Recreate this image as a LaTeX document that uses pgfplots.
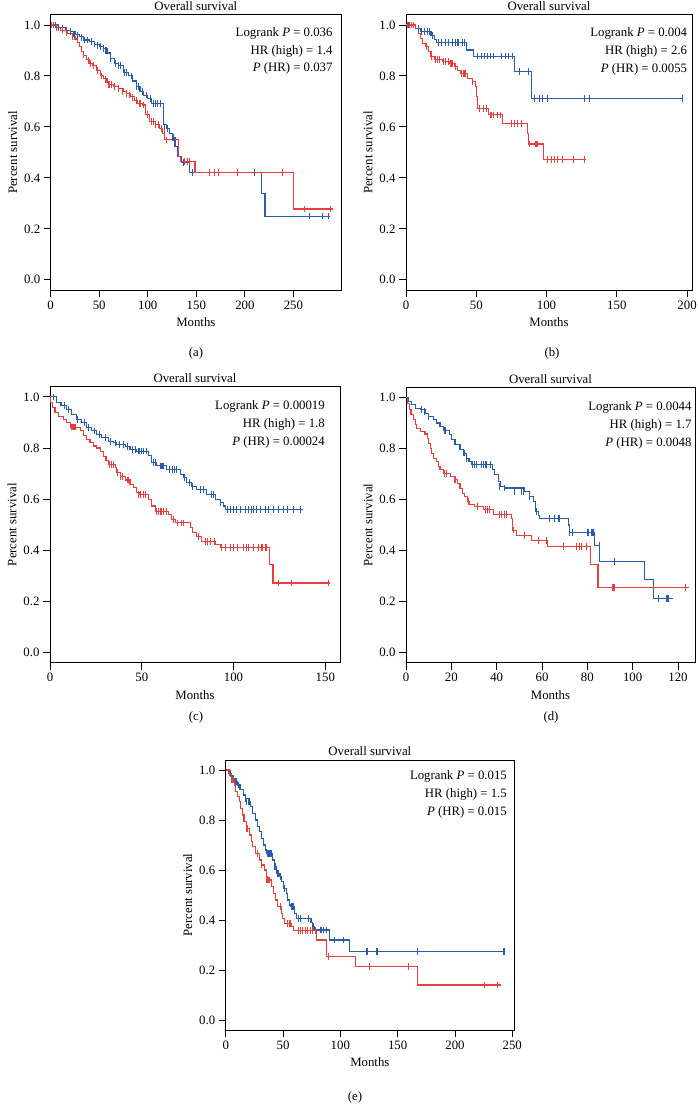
\documentclass[border=0pt]{standalone}
\usepackage{fontspec}
\setmainfont{Liberation Serif}
\usepackage{pgfplots}
\pgfplotsset{compat=1.18}
\definecolor{kmblue}{RGB}{43,92,170}
\definecolor{kmred}{RGB}{232,62,62}
\newcommand\fsz{\fontsize{12.8}{15}\selectfont}
\newcommand\annot[5]{%
  \node[anchor=base east,font=\fsz,inner sep=0pt,xshift=-#1pt,yshift=-#2pt] at (rel axis cs:1,1) {Logrank \textit{P} = #3};
  \node[anchor=base east,font=\fsz,inner sep=0pt,xshift=-#1pt,yshift=-#2pt-17.8pt] at (rel axis cs:1,1) {HR (high) = #4};
  \node[anchor=base east,font=\fsz,inner sep=0pt,xshift=-#1pt,yshift=-#2pt-35.6pt] at (rel axis cs:1,1) {\textit{P} (HR) = #5};
}
\pgfplotsset{
  km/.style={
    scale only axis, anchor=south west,
    xmin=0, ymin=-0.04, ymax=1.04,
    axis line style={line width=0.9pt},
    tick align=outside, major tick length=7pt,
    tick style={black, line width=0.9pt},
    xtick pos=left, ytick pos=left,
    ytick={0,0.2,0.4,0.6,0.8,1.0},
    yticklabel style={/pgf/number format/.cd, fixed, fixed zerofill, precision=1},
    /pgf/number format/assume math mode=true,
    title={Overall survival}, xlabel={Months}, ylabel={Percent survival},
    tick label style={font=\fsz},
    label style={font=\fsz},
    title style={font=\fsz, yshift=-5.5pt},
    xlabel style={yshift=-2pt},
  },
  bline/.style={kmblue, line width=1.1pt, const plot, mark=none},
  rline/.style={kmred, line width=1.1pt, const plot, mark=none},
  bcens/.style={kmblue, only marks, mark=|, mark size=3.4pt, mark options={line width=1.1pt}},
  rcens/.style={kmred, only marks, mark=|, mark size=3.4pt, mark options={line width=1.1pt}},
}
\begin{document}
\begin{tikzpicture}
\path[use as bounding box] (0pt,0pt) rectangle (697pt,1112pt);

% ---------------- (a)
\begin{axis}[km, at={(50.7pt,822pt)}, width=290.3pt, height=275.2pt, xmax=299,
  xtick={0,50,100,150,200,250}]
\addplot[bline] coordinates {(0,1) (8,0.99) (15,0.98) (20,0.974) (26,0.962) (30,0.955) (34,0.941) (40,0.935) (45,0.925) (50,0.915) (54,0.909) (58,0.89) (62,0.87) (66,0.85) (70,0.84) (75,0.815) (80,0.80) (84,0.78) (88,0.76) (92,0.74) (96,0.725) (100,0.71) (104,0.693) (116,0.608) (119,0.595) (122,0.575) (125,0.56) (128,0.523) (131,0.484) (135,0.46) (143,0.42) (217,0.337) (220.7,0.25) (288,0.25)};
\addplot[bcens] coordinates {(3,1) (5,1) (8,0.99) (12,0.985) (16,0.98) (20,0.974) (24,0.965) (28,0.96) (32,0.95) (35,0.941) (38,0.941) (42,0.935) (45,0.925) (48,0.92) (51,0.915) (54,0.909) (57,0.9) (62,0.87) (67,0.85) (70,0.84) (72,0.84) (76,0.815) (78,0.815) (83,0.80) (88,0.76) (90,0.76) (95,0.74) (99,0.725) (103,0.71) (106,0.693) (108,0.693) (110,0.693) (113,0.693) (117,0.595) (120,0.595) (126,0.56) (137,0.46) (146,0.42) (172.7,0.42) (210,0.42) (267,0.25) (280,0.25) (286,0.25)};
\addplot[rline] coordinates {(0,1) (5,0.99) (10,0.98) (17,0.967) (22,0.955) (25,0.945) (28,0.93) (30,0.915) (32,0.895) (34,0.882) (37,0.865) (40,0.85) (43,0.84) (47,0.82) (51,0.80) (54,0.79) (58,0.775) (61,0.765) (65,0.76) (70,0.75) (75,0.74) (78,0.732) (82,0.72) (86,0.705) (89,0.693) (95,0.686) (98,0.65) (102,0.62) (108,0.61) (112,0.595) (115,0.575) (117.6,0.549) (132,0.484) (134,0.464) (148.6,0.42) (250,0.278) (291,0.278)};
\addplot[rcens] coordinates {(1,1) (3,1) (6,0.99) (12,0.98) (16,0.97) (22,0.955) (34,0.882) (39,0.86) (41,0.85) (44,0.84) (48,0.82) (52,0.8) (56,0.785) (60,0.765) (63,0.765) (66,0.758) (70,0.75) (74,0.74) (78,0.732) (81,0.725) (84,0.715) (88,0.705) (92,0.693) (96,0.686) (100,0.65) (104,0.62) (106,0.62) (108,0.61) (111,0.61) (114,0.595) (117,0.575) (119,0.549) (138,0.464) (141,0.464) (143,0.464) (164,0.42) (169,0.42) (172.7,0.42) (192,0.42) (239,0.42) (261,0.278) (288,0.278)};
\annot{8.3}{21.5}{0.036}{1.4}{0.037}
\end{axis}

% ---------------- (b)
\begin{axis}[km, at={(406pt,822pt)}, width=286pt, height=275.2pt, xmax=203.5,
  xtick={0,50,100,150,200}]
\addplot[bline] coordinates {(0,1) (7,0.987) (10,0.974) (17.8,0.96) (20,0.944) (22,0.93) (43,0.902) (48,0.878) (77.2,0.817) (89,0.712) (197,0.712)};
\addplot[bcens] coordinates {(2,1) (4,1) (9,0.987) (11,0.974) (13,0.974) (15,0.974) (17,0.974) (19,0.96) (23,0.93) (25,0.93) (28,0.93) (30,0.93) (33,0.93) (35,0.93) (37,0.93) (40,0.93) (41.5,0.93) (51,0.878) (54,0.878) (56,0.878) (58,0.878) (60,0.878) (62,0.878) (68,0.878) (71,0.878) (73,0.878) (76,0.878) (81,0.817) (87,0.817) (91.4,0.712) (95,0.712) (97.4,0.712) (101,0.712) (127,0.712) (130.6,0.712) (197,0.712)};
\addplot[rline] coordinates {(0,1) (7,0.987) (8.8,0.967) (10,0.948) (11.9,0.928) (14,0.915) (16,0.895) (17.8,0.876) (20,0.863) (26,0.856) (31,0.85) (34.4,0.837) (36.8,0.82) (39,0.81) (44,0.79) (47.5,0.778) (49.4,0.758) (50.4,0.72) (51,0.673) (59,0.647) (68.4,0.614) (86.2,0.575) (87.2,0.533) (98.1,0.473) (127.8,0.473)};
\addplot[rcens] coordinates {(1,1) (2.5,1) (4,1) (5.5,1) (14.5,0.915) (18,0.876) (21,0.863) (22.5,0.863) (24,0.863) (26.5,0.856) (28,0.856) (30,0.856) (32,0.85) (33,0.85) (35,0.837) (39.5,0.81) (41,0.81) (42,0.81) (47,0.778) (52.3,0.673) (55,0.673) (57,0.673) (60.5,0.647) (62.5,0.647) (65,0.647) (67,0.647) (75,0.614) (77,0.614) (79.5,0.614) (82,0.614) (88,0.533) (92.5,0.533) (93.5,0.533) (101,0.473) (103.3,0.473) (105.7,0.473) (108,0.473) (111.6,0.473) (119.2,0.473) (127,0.473)};
\annot{4.7}{22}{0.004}{2.6}{0.0055}
\end{axis}

% ---------------- (c)
\begin{axis}[km, at={(50pt,449.3pt)}, width=290pt, height=276pt, xmax=158,
  xtick={0,50,100,150}]
\addplot[bline] coordinates {(0,1) (3.6,0.978) (6,0.965) (9,0.952) (11.8,0.932) (14.5,0.912) (17.3,0.90) (20,0.88) (22.7,0.867) (25.5,0.854) (28.2,0.84) (31.8,0.827) (34.5,0.82) (36.4,0.814) (41,0.805) (43.6,0.795) (47.3,0.788) (53.6,0.769) (55.5,0.742) (58.2,0.73) (63.6,0.716) (71,0.697) (72.7,0.684) (74.5,0.664) (77.3,0.651) (80,0.638) (85.5,0.618) (90,0.599) (92.7,0.586) (94.5,0.573) (95.8,0.56) (137.8,0.56)};
\addplot[bcens] coordinates {(1.8,1) (8,0.965) (10,0.952) (15,0.912) (19,0.9) (21,0.88) (24,0.867) (27,0.854) (30,0.84) (33,0.827) (35.5,0.82) (38,0.814) (40,0.814) (42,0.805) (45,0.795) (46.5,0.795) (48.5,0.788) (50,0.788) (51,0.788) (52.5,0.788) (56.5,0.742) (57.5,0.742) (60,0.73) (61,0.73) (62,0.73) (65,0.716) (66.5,0.716) (68,0.716) (69,0.716) (73.5,0.684) (76,0.664) (77.5,0.651) (82,0.638) (83.5,0.638) (88,0.618) (89,0.618) (93,0.586) (96.5,0.56) (98.2,0.56) (100,0.56) (101.8,0.56) (103.6,0.56) (106.4,0.56) (108.2,0.56) (110,0.56) (111,0.56) (112.7,0.56) (114.5,0.56) (117.3,0.56) (119,0.56) (121.8,0.56) (124.5,0.56) (127.3,0.56) (129.5,0.56) (132.7,0.56) (136.4,0.56)};
\addplot[rline] coordinates {(0,1) (0.4,0.978) (1.5,0.958) (2.7,0.939) (4.5,0.923) (7.3,0.91) (9,0.9) (11,0.882) (16.4,0.867) (18.2,0.85) (20,0.834) (21.8,0.82) (23.6,0.808) (25.5,0.80) (27.3,0.788) (29,0.768) (30.5,0.75) (31.8,0.736) (35.5,0.723) (36.4,0.703) (38.2,0.69) (41,0.675) (43.6,0.657) (45.5,0.644) (47.3,0.627) (48.5,0.618) (53.6,0.599) (55.5,0.573) (57.3,0.553) (64.5,0.54) (66.4,0.52) (68.2,0.507) (76.4,0.488) (77.8,0.47) (80,0.455) (82.7,0.435) (90,0.422) (92.7,0.41) (119.6,0.344) (121.5,0.272) (152.7,0.272)};
\addplot[rcens] coordinates {(12,0.882) (13,0.882) (13.6,0.882) (32.5,0.736) (33.5,0.736) (34.5,0.736) (37,0.703) (38.5,0.69) (39.5,0.69) (42.5,0.675) (48,0.618) (49.5,0.618) (51,0.618) (52,0.618) (58,0.553) (59,0.553) (60.5,0.553) (62,0.553) (63.6,0.553) (67.3,0.52) (69.5,0.507) (71.5,0.507) (72.5,0.507) (81,0.455) (84.5,0.435) (86,0.435) (87.5,0.435) (89.5,0.435) (93.6,0.41) (95.5,0.41) (98.2,0.41) (100,0.41) (102,0.41) (105.5,0.41) (107.3,0.41) (108.2,0.41) (111,0.41) (113.6,0.41) (115.5,0.41) (117.3,0.41) (118.2,0.41) (124.5,0.272) (131.8,0.272) (151.8,0.272)};
\annot{15}{23.3}{0.00019}{1.8}{0.00024}
\end{axis}

% ---------------- (d)
\begin{axis}[km, at={(406pt,449.3pt)}, width=289pt, height=275.4pt, xmax=127.5,
  xtick={0,20,40,60,80,100,120}]
\addplot[bline] coordinates {(0,1) (1,0.984) (2.5,0.971) (4,0.958) (6.2,0.952) (8.4,0.939) (9.8,0.925) (12,0.912) (13.5,0.90) (15,0.886) (16.4,0.87) (19,0.854) (20,0.834) (21.6,0.814) (23.8,0.795) (25.3,0.782) (26.7,0.762) (27.8,0.749) (28.9,0.736) (38.2,0.716) (39.2,0.697) (40.7,0.67) (41.7,0.65) (43.6,0.645) (52.4,0.631) (54.6,0.612) (56.1,0.592) (57.3,0.553) (58.3,0.536) (59,0.527) (71.5,0.50) (72.2,0.47) (83,0.42) (85.2,0.356) (105.3,0.285) (109,0.213) (117.8,0.213)};
\addplot[bcens] coordinates {(6.9,0.952) (8,0.945) (9.8,0.925) (17.2,0.87) (25.3,0.782) (26,0.782) (26.7,0.762) (29.4,0.736) (30.4,0.736) (31.2,0.736) (33.4,0.736) (34.2,0.736) (35,0.736) (35.7,0.736) (37.1,0.736) (41.4,0.65) (43.6,0.645) (48,0.631) (51,0.631) (51.7,0.631) (54.6,0.612) (57.6,0.553) (63.4,0.527) (65.6,0.527) (67.1,0.527) (67.8,0.527) (72.2,0.47) (73.4,0.47) (80.3,0.47) (81.8,0.47) (82.5,0.47) (85.2,0.42) (92,0.356) (111.2,0.213) (114.9,0.213) (115.6,0.213)};
\addplot[rline] coordinates {(0,1) (0.6,0.978) (1.5,0.952) (2.2,0.932) (3.2,0.912) (4,0.893) (4.7,0.88) (6.2,0.867) (8.4,0.857) (9.4,0.84) (10.1,0.82) (10.9,0.80) (11.3,0.78) (12,0.762) (13.5,0.749) (14.2,0.73) (15,0.716) (16.4,0.703) (19.8,0.69) (21.6,0.677) (22.6,0.661) (23.8,0.644) (25,0.625) (26,0.612) (27,0.592) (28.2,0.579) (30.4,0.573) (34,0.56) (38.5,0.54) (46.5,0.527) (47,0.48) (48.8,0.46) (55.4,0.44) (62.4,0.416) (81.3,0.344) (84.7,0.255) (125,0.255)};
\addplot[rcens] coordinates {(17,0.703) (17.8,0.703) (21.6,0.677) (27.5,0.592) (31.5,0.573) (35,0.56) (36,0.56) (36.8,0.56) (41.4,0.54) (42.1,0.54) (43.6,0.54) (44.3,0.54) (47.3,0.48) (52.4,0.46) (58.3,0.44) (62,0.44) (69.3,0.416) (75.2,0.416) (76.6,0.416) (77.4,0.416) (79.6,0.416) (91.3,0.255) (92,0.255) (123.3,0.255)};
\annot{3.3}{23.3}{0.0044}{1.7}{0.0048}
\end{axis}

% ---------------- (e)
\begin{axis}[km, at={(225.7pt,82pt)}, width=288.3pt, height=270pt, xmax=251.5,
  xtick={0,50,100,150,200,250}]
\addplot[bline] coordinates {(0,1) (2.3,0.987) (5.2,0.967) (8.2,0.953) (10.2,0.94) (12.5,0.923) (15.5,0.9) (17,0.887) (20,0.873) (21.9,0.853) (23.6,0.827) (25.7,0.8) (27.7,0.773) (29.4,0.753) (31.5,0.727) (33,0.7) (34.4,0.68) (35.9,0.667) (41.1,0.64) (42.3,0.613) (44,0.587) (47,0.573) (49,0.553) (50.4,0.527) (52.8,0.507) (53.9,0.48) (55.7,0.46) (56.8,0.453) (59.8,0.427) (61.5,0.407) (74.4,0.39) (76.1,0.373) (77.6,0.36) (90.7,0.32) (108,0.273) (244,0.273)};
\addplot[bcens] coordinates {(4,0.987) (6,0.967) (7,0.967) (9,0.953) (11,0.94) (17.5,0.887) (18.5,0.873) (19.5,0.873) (20.5,0.873) (36.5,0.667) (37.5,0.667) (38.5,0.667) (39.5,0.667) (43,0.613) (45,0.587) (46,0.587) (48,0.573) (51.5,0.527) (57.3,0.453) (58.3,0.453) (59.2,0.453) (63.6,0.407) (65,0.407) (72,0.407) (76.5,0.373) (82.5,0.36) (83.5,0.36) (85,0.36) (88.3,0.36) (94.8,0.32) (103,0.32) (122.5,0.273) (123.3,0.273) (132,0.273) (167.6,0.273) (242.8,0.273)};
\addplot[rline] coordinates {(0,1) (3.2,0.98) (5.2,0.96) (7.3,0.94) (8.7,0.913) (10.2,0.893) (11.7,0.873) (13.1,0.847) (14.6,0.82) (16,0.793) (17.8,0.767) (20.7,0.74) (22.2,0.713) (23.6,0.693) (25.7,0.667) (29.4,0.64) (31.2,0.62) (33.5,0.6) (35.3,0.573) (36.7,0.56) (40.2,0.533) (41.7,0.507) (43.4,0.48) (45.2,0.453) (48.4,0.427) (49.6,0.407) (51.3,0.387) (57.7,0.373) (59.2,0.357) (79.6,0.32) (87.8,0.253) (113.1,0.213) (167,0.14) (240,0.14)};
\addplot[rcens] coordinates {(5,0.96) (6,0.96) (6.7,0.96) (17.8,0.767) (19.2,0.767) (27.7,0.667) (31.2,0.62) (36,0.56) (37.3,0.56) (38.5,0.56) (47.5,0.453) (54,0.387) (55.5,0.387) (56.3,0.387) (63.6,0.357) (65,0.357) (67.3,0.357) (69.4,0.357) (71.4,0.357) (73.8,0.357) (76,0.357) (78.7,0.357) (89.8,0.253) (125.7,0.213) (159.8,0.213) (226,0.14) (237,0.14)};
\annot{7}{20}{0.015}{1.5}{0.015}
\end{axis}

\node[font=\fsz] at (196pt,758.5pt) {(a)};
\node[font=\fsz] at (552pt,758.5pt) {(b)};
\node[font=\fsz] at (196pt,395pt) {(c)};
\node[font=\fsz] at (551pt,395pt) {(d)};
\node[font=\fsz] at (355pt,15pt) {(e)};
\end{tikzpicture}
\end{document}
